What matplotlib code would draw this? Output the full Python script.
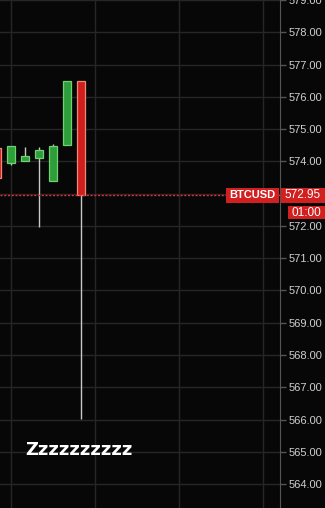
import matplotlib
matplotlib.use("Agg")
import matplotlib.pyplot as plt
from matplotlib.patches import Rectangle
from matplotlib.transforms import blended_transform_factory

# candle data (oldest first)
opens = [574.42, 573.95, 574.00, 574.09, 573.38, 574.50, 576.49]
closes = [573.50, 574.48, 574.17, 574.35, 574.48, 576.49, 572.95]
highs = [574.42, 574.48, 574.43, 574.46, 574.53, 576.49, 576.49]
lows = [573.50, 573.90, 574.00, 571.98, 573.38, 574.50, 566.02]

symbol = "BTCUSD"
last_price = 572.95
countdown = "01:00"
price_ticks = list(range(564, 580))
note = "Zzzzzzzzzz"

bg = "#070707"
grid_col = "#262626"
up_body, up_edge = "#2e9e3a", "#72cf72"
dn_body, dn_edge = "#cf1f1c", "#f08878"
wick_col = "#c8c8c8"
label_red = "#d21f1f"

W, H = 325, 508
fig = plt.figure(figsize=(W / 100, H / 100), dpi=100, facecolor=bg)
ax = fig.add_axes([0, 0, 280 / W, 1])
ax.set_facecolor(bg)

ax.set_xlim(3 / 14, 283 / 14)
ax.set_ylim(563.26, 578.958)

for x in [1, 7, 13, 19]:
    ax.axvline(x, color=grid_col, lw=1, zorder=0)
for p in price_ticks:
    ax.axhline(p, color=grid_col, lw=1, zorder=0)

for i, (o, c, h, l) in enumerate(zip(opens, closes, highs, lows)):
    up = c >= o
    ax.vlines(i, l, h, color=wick_col, lw=1, zorder=2)
    lo, hi = min(o, c), max(o, c)
    ax.add_patch(Rectangle((i - 0.3, lo), 0.6, hi - lo,
                           facecolor=up_body if up else dn_body,
                           edgecolor=up_edge if up else dn_edge,
                           lw=0.9, zorder=3))

ax.axhline(last_price, color="#e03030", lw=1, ls=(0, (1.5, 1.2)), zorder=4)

# the 573 label sits under the last-price box, so leave it blank
ax.yaxis.tick_right()
ax.set_yticks(price_ticks)
ax.set_yticklabels(["" if p == 573 else f"{p:.2f}" for p in price_ticks])
ax.tick_params(axis="y", colors="#555555", labelcolor="#cfcfcf", labelsize=8,
               length=4, width=1, pad=2)
ax.set_xticks([])
for s in ["top", "bottom", "left"]:
    ax.spines[s].set_visible(False)
ax.spines["right"].set_color("#555555")

# price labels drawn in figure x / data y
px = 1 / 32.36  # one pixel in price units
tr = blended_transform_factory(fig.transFigure, ax.transData)
fig.patches.append(Rectangle((226 / W, last_price - 7.5 * px), 53 / W, 15 * px,
                             transform=tr, facecolor=label_red, lw=0, zorder=5))
fig.text(252.5 / W, last_price, symbol, transform=tr, color="white",
         fontsize=8, fontweight="bold", ha="center", va="center",
         family="Liberation Sans", zorder=6)
fig.patches.append(Rectangle((281 / W, last_price - 7.5 * px), 44 / W, 15 * px,
                             transform=tr, facecolor=label_red, lw=0, zorder=5))
fig.text(303 / W, last_price, f"{last_price:.2f}", transform=tr, color="white",
         fontsize=8.5, ha="center", va="center", family="Liberation Sans", zorder=6)
fig.patches.append(Rectangle((288 / W, last_price - 24 * px), 37 / W, 13 * px,
                             transform=tr, facecolor=label_red, lw=0, zorder=5))
fig.text(306.5 / W, last_price - 17.5 * px, countdown, transform=tr, color="white",
         fontsize=8.5, ha="center", va="center", family="Liberation Sans", zorder=6)

for lab in ax.get_yticklabels():
    lab.set_family("Liberation Sans")

ax.text(25 / 280, 1 - 450 / H, note, transform=ax.transAxes, color="white",
        fontsize=13, fontweight="bold", ha="left", va="center", zorder=6)

fig.savefig("out.png", dpi=100, facecolor=bg)
